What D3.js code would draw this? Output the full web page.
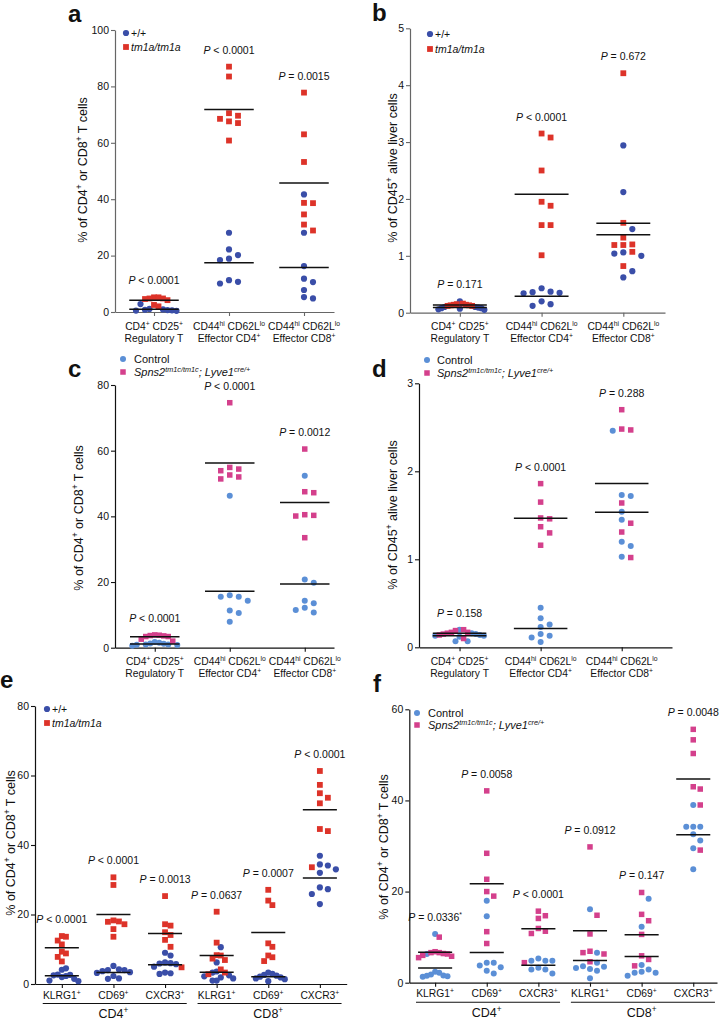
<!DOCTYPE html>
<html><head><meta charset="utf-8">
<script src="https://cdn.jsdelivr.net/npm/d3@7"></script>
<style>body{margin:0;background:#fff}</style>
</head><body>
<script>
// ---------------- DATA ----------------
const catsTop = [["CD4{s:+} CD25{s:+}", "Regulatory T"], ["CD44{s:hi} CD62L{s:lo}", "Effector CD4{s:+}"], ["CD44{s:hi} CD62L{s:lo}", "Effector CD8{s:+}"]];
const catsBottom = ["KLRG1{s:+}", "CD69{s:+}", "CXCR3{s:+}", "KLRG1{s:+}", "CD69{s:+}", "CXCR3{s:+}"];
const groupLabels = ["CD4{s:+}", "CD8{s:+}"];
const yLabelT = "% of CD4{s:+} or CD8{s:+} T cells";
const yLabelLiver = "% of CD45{s:+} alive liver cells";
const legendTm1a = ["+/+", "tm1a/tm1a"];
const legendSpns2 = ["Control", "Spns2{s:tm1c/tm1c}; Lyve1{s:cre/+}"];

const ticksA = [0, 20, 40, 60, 80, 100];
const ticksB = [0, 1, 2, 3, 4, 5];
const ticksC = [0, 20, 40, 60, 80];
const ticksD = [0, 1, 2, 3];
const ticksE = [0, 20, 40, 60, 80];
const ticksF = [0, 20, 40, 60];

const aWT = [
  [0.5, 0.8, 0.6, 0.4, 0.7, 0.9, 1.1, 2.8],
  [28.1, 22.2, 18.9, 18.4, 20.2, 11.3, 10.1, 10.7],
  [41.7, 28.1, 16.3, 11.8, 10.6, 7.8, 4.8, 5.3]];
const aMut = [
  [5.2, 4.8, 4.6, 4.2, 4.8, 5.2, 2.5, 2.0],
  [87.0, 83.5, 69.6, 70.5, 67.6, 67.0, 68.5, 60.8],
  [77.8, 63.0, 53.2, 38.7, 38.6, 34.6, 28.9, 31.0]];
const aP = ["< 0.0001", "< 0.0001", "= 0.0015"];

const bWT = [
  [0.10, 0.08, 0.06, 0.05, 0.07, 0.20, 0.09, 0.08, 0.10],
  [0.35, 0.37, 0.34, 0.36, 0.43, 0.20, 0.12, 0.15],
  [2.94, 2.12, 1.47, 1.06, 1.00, 1.04, 0.62, 0.73]];
const bMut = [
  [0.14, 0.13, 0.16, 0.12, 0.13, 0.15, 0.14, 0.12],
  [3.08, 3.15, 2.50, 1.88, 1.95, 1.54, 1.54, 1.01],
  [4.21, 1.58, 1.32, 1.19, 1.19, 1.20, 1.07, 0.82]];
const bP = ["= 0.171", "< 0.0001", "= 0.672"];

const cCtrl = [
  [1.5, 1.2, 0.8, 0.6, 1.0, 1.3, 1.7, 1.0, 0.9],
  [46.3, 15.5, 14.3, 15.5, 16.0, 11.3, 10.6, 7.9],
  [52.4, 19.8, 20.8, 14.3, 13.5, 12.2, 10.7, 11.5]];
const cKO = [
  [3.8, 3.6, 3.4, 2.6, 3.4, 3.7, 3.9, 2.0],
  [74.6, 54.4, 53.9, 54.9, 52.6, 51.4, 52.0],
  [60.5, 47.5, 47.2, 40.5, 40.1, 40.3, 33.5]];
const cP = ["< 0.0001", "< 0.0001", "= 0.0012"];

const dCtrl = [
  [0.13, 0.07, 0.07, 0.15, 0.16, 0.13, 0.14, 0.20, 0.12],
  [0.45, 0.33, 0.26, 0.23, 0.13, 0.06, 0.11, 0.15],
  [2.46, 1.72, 1.73, 1.54, 1.45, 1.20, 1.15, 1.03]];
const dKO = [
  [0.20, 0.17, 0.19, 0.14, 0.10, 0.16, 0.17, 0.15],
  [1.86, 1.65, 1.46, 1.47, 1.37, 1.30, 1.16],
  [2.70, 2.47, 2.48, 1.64, 1.41, 1.31, 1.02]];
const dP = ["= 0.158", "< 0.0001", "= 0.288"];

const eWT = [
  [4.5, 4.1, 2.6, 2.3, 2.7, 2.5, 1.5, 0.8, 1.0, 2.0],
  [5.2, 4.2, 4.0, 3.7, 3.4, 3.2, 2.3, 1.6, 1.5, 4.0],
  [9.0, 8.2, 6.2, 5.9, 5.7, 5.0, 3.3, 2.9, 3.1, 6.0],
  [10.6, 6.2, 3.6, 3.3, 2.2, 1.9, 1.0, 1.0, 1.6, 2.5],
  [3.3, 2.9, 2.6, 2.4, 1.9, 1.6, 0.8, 2.1, 1.4],
  [36.9, 34.4, 34.1, 32.0, 33.0, 27.8, 27.3, 25.9, 23.0]];
const eMut = [
  [13.8, 13.6, 12.5, 11.4, 8.8, 9.3, 7.8, 6.5],
  [30.7, 28.5, 18.3, 17.2, 15.8, 17.9, 18.0, 13.6],
  [25.3, 17.2, 16.8, 14.9, 14.1, 12.7, 10.7, 4.8],
  [20.8, 11.9, 8.3, 8.2, 7.3, 6.9, 4.2, 3.3, 2.8],
  [27.1, 24.0, 22.7, 11.7, 10.7, 7.7, 8.2, 6.6],
  [61.3, 57.3, 53.6, 54.9, 52.0, 44.6, 44.0, 33.6]];
const eP = ["< 0.0001", "< 0.0001", "= 0.0013", "= 0.0637", "= 0.0007", "< 0.0001"];

const fCtrl = [
  [10.7, 6.3, 2.4, 1.5, 1.3, 1.4, 1.6, 2.2, 1.8],
  [18.0, 14.6, 3.4, 4.4, 2.0, 2.6, 4.4, 3.8],
  [4.8, 4.8, 4.8, 5.3, 2.9, 2.0, 2.9, 3.3],
  [16.1, 6.6, 4.4, 3.5, 3.6, 3.0, 2.6, 3.2, 1.0],
  [18.4, 12.3, 3.9, 2.9, 2.2, 1.5, 2.2, 2.4],
  [39.0, 34.2, 34.2, 34.2, 32.6, 31.2, 29.5, 24.9]];
const fKO = [
  [10.0, 6.6, 6.4, 5.8, 5.5, 6.0, 6.3, 6.6, 6.8],
  [42.1, 28.4, 22.7, 20.0, 19.0, 11.2, 8.6],
  [14.7, 14.1, 15.7, 11.9, 10.8, 11.3, 4.4],
  [29.8, 14.8, 10.7, 6.6, 6.3, 6.9, 4.6],
  [19.8, 15.0, 13.6, 10.6, 5.9, 5.1, 3.7],
  [55.6, 53.3, 50.3, 43.0, 42.5, 39.0, 29.1]];
const fP = ["= 0.0336{s:*}", "= 0.0058", "< 0.0001", "= 0.0912", "= 0.147", "= 0.0048"];

// ---------------- DRAWING ----------------
const FONT = "'Liberation Sans', Arial, Helvetica, sans-serif";
const DARKBLUE = "#3a4ea8", RED = "#dd3329", LIGHTBLUE = "#5b8fd6", PINK = "#d4408c";

const svg = d3.select("body").append("svg")
  .attr("width", 719).attr("height", 1020)
  .style("background", "#fff")
  .attr("font-family", FONT);

function rich(sel, str, fs) {
  const re = /\{(i|s):([^}]*)\}/g;
  let last = 0, m, raised = false;
  const shift = fs * 0.38;
  function add(txt, italic, sup) {
    if (!txt) return;
    const t = sel.append("tspan").text(txt);
    if (italic) t.attr("font-style", "italic");
    if (sup) {
      t.attr("font-size", fs * 0.66);
      if (!raised) { t.attr("dy", -shift); raised = true; }
    } else if (raised) { t.attr("dy", shift); raised = false; }
  }
  while ((m = re.exec(str)) !== null) {
    add(str.slice(last, m.index), false, false);
    add(m[2], m[1] === "i", m[1] === "s");
    last = re.lastIndex;
  }
  add(str.slice(last), false, false);
  return sel;
}

function text(g, x, y, str, fs, anchor, extra) {
  const t = g.append("text").attr("x", x).attr("y", y)
    .attr("font-size", fs).attr("text-anchor", anchor || "start").attr("fill", "#111");
  if (extra) extra(t);
  rich(t, str, fs);
  return t;
}

function swarm(pts, y, step, size, limit) {
  const sorted = pts.slice().sort((a, b) => b.v - a.v);
  const placed = [];
  sorted.forEach(p => {
    const py = y(p.v);
    for (let k = 0; k < 40; k++) {
      const off = (k === 0 ? 0 : (k % 2 ? 1 : -1) * Math.ceil(k / 2)) * step;
      const clash = placed.some(q => Math.abs(q.dx - off) < step * 0.99 && Math.abs(q.py - py) < size);
      if (!clash) { placed.push(Object.assign({}, p, { dx: off, py })); break; }
    }
  });
  const maxAbs = d3.max(placed, q => Math.abs(q.dx)) || 0;
  if (maxAbs > limit) placed.forEach(q => q.dx *= limit / maxAbs);
  return placed;
}

function panel(cfg) {
  const g = svg.append("g");
  const n = cfg.s1.length;
  const x = d3.scaleLinear().domain(cfg.xd).range([cfg.x0, cfg.x1]);
  const y = d3.scaleLinear().domain([0, cfg.ticks[cfg.ticks.length - 1]]).range([cfg.yb, cfg.yt]);
  const stepPx = x(1) - x(0);

  // axes
  const ya = g.append("g").attr("transform", `translate(${cfg.x0},0)`)
    .call(d3.axisLeft(y).tickValues(cfg.ticks).tickFormat(d3.format("~g"))
      .tickSize(4).tickSizeOuter(0).tickPadding(2));
  const xa = g.append("g").attr("transform", `translate(0,${cfg.yb})`)
    .call(d3.axisBottom(x).tickValues(d3.range(n)).tickSize(4).tickSizeOuter(0).tickFormat(""));
  [ya, xa].forEach(a => {
    a.attr("font-family", FONT);
    a.select(".domain").attr("stroke", cfg.axisColor).attr("stroke-width", 1.2);
    a.selectAll(".tick line").attr("stroke", cfg.axisColor).attr("stroke-width", 1.1);
  });
  ya.selectAll(".tick text").attr("font-size", 10.5).attr("fill", "#111");

  // category labels
  cfg.cats.forEach((c, i) => {
    const lines = Array.isArray(c) ? c : [c];
    lines.forEach((ln, j) => text(g, x(i), cfg.yb + cfg.labOff + j * 12, ln, 10.3, "middle"));
  });

  // y label (ylx is the visual centre; shift to baseline)
  text(g, 0, 0, cfg.ylabel, 12.5, "middle", t => t.attr("x", null).attr("y", null)
    .attr("transform", `translate(${cfg.ylx + 4.5},${cfg.yly}) rotate(-90)`));

  // points
  for (let i = 0; i < n; i++) {
    const pts = cfg.s1[i].map(v => ({ v, s: 0 })).concat(cfg.s2[i].map(v => ({ v, s: 1 })));
    const placed = swarm(pts, y, cfg.dotStep, cfg.r * 2 + 0.8, stepPx * cfg.spread);
    const cx = x(i);
    g.selectAll(null).data(placed.filter(p => p.s === 0)).enter().append("circle")
      .attr("cx", p => cx + p.dx).attr("cy", p => p.py).attr("r", cfg.r).attr("fill", cfg.c1);
    g.selectAll(null).data(placed.filter(p => p.s === 1)).enter().append("rect")
      .attr("x", p => cx + p.dx - cfg.sq / 2).attr("y", p => p.py - cfg.sq / 2)
      .attr("width", cfg.sq).attr("height", cfg.sq).attr("fill", cfg.c2);
    const hw = stepPx * 0.33;
    [cfg.s1[i], cfg.s2[i]].forEach(arr => {
      const m = d3.mean(arr);
      g.append("line").attr("x1", cx - hw).attr("x2", cx + hw)
        .attr("y1", y(m)).attr("y2", y(m)).attr("stroke", "#111").attr("stroke-width", 1.5);
    });
    const top = d3.max(cfg.s1[i].concat(cfg.s2[i]));
    text(g, cx, y(top) - 13, "{i:P} " + cfg.p[i], 10.5, "middle");
  }

  // legend
  const L = cfg.legend;
  g.append("circle").attr("cx", L.x).attr("cy", L.y1).attr("r", cfg.r).attr("fill", cfg.c1);
  g.append("rect").attr("x", L.x - cfg.sq / 2).attr("y", L.y2 - cfg.sq / 2)
    .attr("width", cfg.sq).attr("height", cfg.sq).attr("fill", cfg.c2);
  text(g, L.tx, L.y1 + 3.8, L.labels[0], L.fs, "start");
  text(g, L.tx, L.y2 + 3.8, L.labels[1], L.fs, "start", t => t.attr("font-style", "italic"));

  // panel letter
  g.append("text").attr("x", cfg.letter[1]).attr("y", cfg.letter[2]).text(cfg.letter[0])
    .attr("font-size", 24).attr("font-weight", "bold").attr("fill", "#111");

  // group labels
  if (cfg.groups) {
    cfg.groups.forEach((gr, k) => {
      const a = x(k * 3) - stepPx * 0.37, b = x(k * 3 + 2) + stepPx * 0.42;
      g.append("line").attr("x1", a).attr("x2", b).attr("y1", cfg.yb + 19.5).attr("y2", cfg.yb + 19.5)
        .attr("stroke", "#111").attr("stroke-width", 1.1);
      text(g, x(k * 3 + 1), cfg.yb + 34, gr, 12.5, "middle");
    });
  }
}

panel({ s1: aWT, s2: aMut, p: aP, cats: catsTop, ticks: ticksA, ylabel: yLabelT,
  x0: 115, x1: 334, xd: [-0.52, 2.4], yb: 312, yt: 30, ylx: 82, yly: 170, labOff: 17.5,
  c1: DARKBLUE, c2: RED, r: 3.1, sq: 5.8, dotStep: 9, spread: 0.3, axisColor: "#666",
  legend: { x: 126, y1: 33, y2: 47, tx: 131, fs: 10.5, labels: legendTm1a }, letter: ["a", 68, 22] });

panel({ s1: bWT, s2: bMut, p: bP, cats: catsTop, ticks: ticksB, ylabel: yLabelLiver,
  x0: 410, x1: 665, xd: [-0.61, 2.51], yb: 312.7, yt: 28.3, ylx: 392, yly: 168, labOff: 17.5,
  c1: DARKBLUE, c2: RED, r: 3.1, sq: 5.8, dotStep: 9, spread: 0.3, axisColor: "#666",
  legend: { x: 430, y1: 34, y2: 49, tx: 435, fs: 10.5, labels: legendTm1a }, letter: ["b", 372, 21] });

panel({ s1: cCtrl, s2: cKO, p: cP, cats: catsTop, ticks: ticksC, ylabel: yLabelT,
  x0: 115, x1: 334, xd: [-0.53, 2.39], yb: 647.7, yt: 385, ylx: 78, yly: 518, labOff: 17.5,
  c1: LIGHTBLUE, c2: PINK, r: 3, sq: 5.5, dotStep: 9, spread: 0.3, axisColor: "#111",
  legend: { x: 123, y1: 359, y2: 372, tx: 134, fs: 11, labels: legendSpns2 }, letter: ["c", 68, 377] });

panel({ s1: dCtrl, s2: dKO, p: dP, cats: catsTop, ticks: ticksD, ylabel: yLabelLiver,
  x0: 419, x1: 672, xd: [-0.5, 2.62], yb: 647.3, yt: 383.3, ylx: 392, yly: 515, labOff: 17.5,
  c1: LIGHTBLUE, c2: PINK, r: 3, sq: 5.5, dotStep: 9, spread: 0.3, axisColor: "#111",
  legend: { x: 427, y1: 360, y2: 373, tx: 437, fs: 11, labels: legendSpns2 }, letter: ["d", 372, 377] });

panel({ s1: eWT, s2: eMut, p: eP, cats: catsBottom, ticks: ticksE, ylabel: yLabelT, groups: groupLabels,
  x0: 35, x1: 346.7, xd: [-0.52, 5.52], yb: 984, yt: 706, ylx: 10, yly: 843, labOff: 15,
  c1: DARKBLUE, c2: RED, r: 3.1, sq: 5.8, dotStep: 8, spread: 0.32, axisColor: "#111",
  legend: { x: 47, y1: 709, y2: 723, tx: 52, fs: 10.5, labels: legendTm1a }, letter: ["e", 0, 688] });

panel({ s1: fCtrl, s2: fKO, p: fP, cats: catsBottom, ticks: ticksF, ylabel: yLabelT, groups: groupLabels,
  x0: 409.3, x1: 717, xd: [-0.5, 5.46], yb: 982.7, yt: 709.3, ylx: 383, yly: 847, labOff: 14,
  c1: LIGHTBLUE, c2: PINK, r: 3, sq: 5.5, dotStep: 7, spread: 0.32, axisColor: "#111",
  legend: { x: 417, y1: 713, y2: 725, tx: 428, fs: 11, labels: legendSpns2 }, letter: ["f", 373, 692] });
</script>
</body></html>
